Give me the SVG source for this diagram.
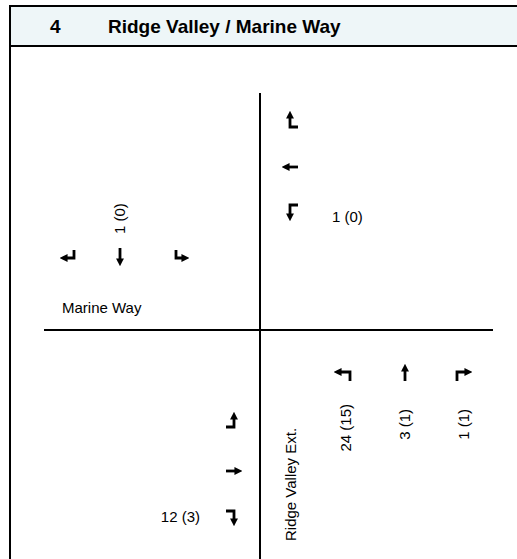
<svg xmlns="http://www.w3.org/2000/svg" width="517" height="559" viewBox="0 0 517 559">
<style>
.t{font-family:"Liberation Sans",Arial,sans-serif;font-size:15px;fill:#000}
.h{font-family:"Liberation Sans",Arial,sans-serif;font-size:19px;font-weight:bold;fill:#000}
.a{fill:none;stroke:#000;stroke-width:2.8}
.ln{stroke:#000;stroke-width:2;fill:none}
</style>
<defs>
<marker id="ah" viewBox="0 0 10 10" refX="2" refY="5" markerWidth="2.8" markerHeight="2.8" orient="auto">
<path d="M0,0 L10,5 L0,10 z" fill="#000"/>
</marker>
</defs>
<rect x="10" y="6" width="507" height="40" fill="#EEF6F8"/>
<g id="frame">
<line class="ln" x1="9" y1="6" x2="517" y2="6"/>
<line class="ln" x1="9" y1="46" x2="517" y2="46"/>
<line class="ln" x1="10" y1="5" x2="10" y2="559"/>
</g>
<g id="header">
<text class="h" x="50" y="33">4</text>
<text class="h" x="108" y="33">Ridge Valley / Marine Way</text>
</g>
<g id="roads">
<line class="ln" x1="44" y1="330" x2="493" y2="330"/>
<line class="ln" x1="260" y1="93" x2="260" y2="559"/>
</g>
<g id="westbound">
<path class="a" d="M298,127 H290 V117" marker-end="url(#ah)"/>
<path class="a" d="M298,167 H288" marker-end="url(#ah)"/>
<path class="a" d="M298,205 H290 V215" marker-end="url(#ah)"/>
<text class="t" x="332" y="222">1 (0)</text>
</g>
<g id="southbound">
<path class="a" d="M74,250 V258 H66" marker-end="url(#ah)"/>
<path class="a" d="M120,248 V260" marker-end="url(#ah)"/>
<path class="a" d="M176,250 V258 H183" marker-end="url(#ah)"/>
<text class="t" transform="translate(125,234) rotate(-90)">1 (0)</text>
<text class="t" x="62" y="313">Marine Way</text>
</g>
<g id="eastbound">
<path class="a" d="M226,427 H234 V418" marker-end="url(#ah)"/>
<path class="a" d="M226,471 H236" marker-end="url(#ah)"/>
<path class="a" d="M226,511 H234 V520" marker-end="url(#ah)"/>
<text class="t" text-anchor="end" x="200" y="522">12 (3)</text>
</g>
<g id="northbound">
<path class="a" d="M350,381 V372 H340" marker-end="url(#ah)"/>
<path class="a" d="M405,381 V370" marker-end="url(#ah)"/>
<path class="a" d="M457,381 V372 H466" marker-end="url(#ah)"/>
<text class="t" text-anchor="end" transform="translate(351,404) rotate(-90)">24 (15)</text>
<text class="t" text-anchor="end" transform="translate(410,409) rotate(-90)">3 (1)</text>
<text class="t" text-anchor="end" transform="translate(469,409) rotate(-90)">1 (1)</text>
<text class="t" transform="translate(296,541) rotate(-90)">Ridge Valley Ext.</text>
</g>
</svg>
